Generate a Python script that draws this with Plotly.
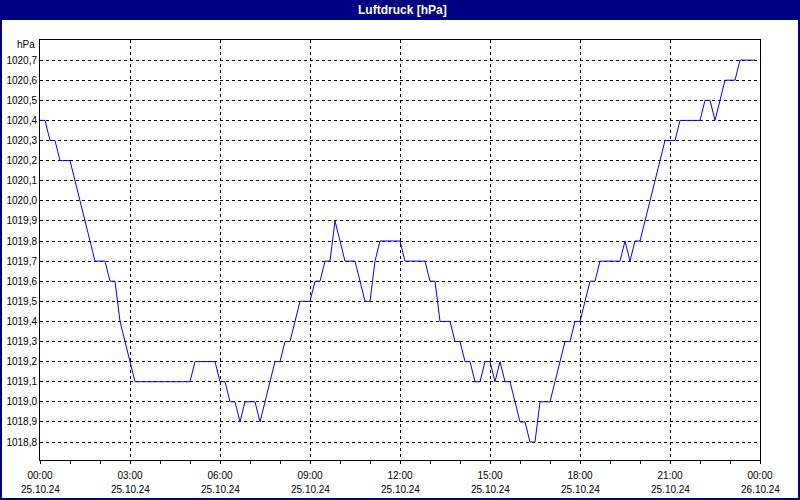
import plotly.graph_objects as go
import pandas as pd

# ---- data ----
chart_title = "Luftdruck [hPa]"
unit_label = "hPa"
start_time = "2024-10-25 00:00"
step_minutes = 10
pressure_hpa = [
    1020.4, 1020.4, 1020.3, 1020.3, 1020.2, 1020.2, 1020.2, 1020.1, 1020.0, 1019.9,
    1019.8, 1019.7, 1019.7, 1019.7, 1019.6, 1019.6, 1019.4, 1019.3, 1019.2, 1019.1,
    1019.1, 1019.1, 1019.1, 1019.1, 1019.1, 1019.1, 1019.1, 1019.1, 1019.1, 1019.1,
    1019.1, 1019.2, 1019.2, 1019.2, 1019.2, 1019.2,
    1019.1, 1019.1, 1019.0, 1019.0, 1018.9, 1019.0, 1019.0, 1019.0, 1018.9, 1019.0,
    1019.1, 1019.2, 1019.2, 1019.3, 1019.3, 1019.4, 1019.5, 1019.5, 1019.5, 1019.6,
    1019.6, 1019.7, 1019.7, 1019.9, 1019.8, 1019.7, 1019.7, 1019.7, 1019.6, 1019.5,
    1019.5, 1019.7, 1019.8, 1019.8, 1019.8, 1019.8, 1019.8, 1019.7, 1019.7, 1019.7,
    1019.7, 1019.7, 1019.6, 1019.6, 1019.4, 1019.4, 1019.4, 1019.3, 1019.3, 1019.2,
    1019.2, 1019.1, 1019.1, 1019.2, 1019.2, 1019.1, 1019.2, 1019.1, 1019.1, 1019.0,
    1018.9, 1018.9, 1018.8, 1018.8, 1019.0, 1019.0, 1019.0, 1019.1, 1019.2, 1019.3,
    1019.3, 1019.4, 1019.4, 1019.5, 1019.6, 1019.6, 1019.7, 1019.7, 1019.7, 1019.7,
    1019.7, 1019.8, 1019.7, 1019.8, 1019.8, 1019.9, 1020.0, 1020.1, 1020.2, 1020.3,
    1020.3, 1020.3, 1020.4, 1020.4, 1020.4, 1020.4, 1020.4, 1020.5, 1020.5, 1020.4,
    1020.5, 1020.6, 1020.6, 1020.6, 1020.7, 1020.7, 1020.7, 1020.7,
]
x_tick_times = ["2024-10-25 00:00", "2024-10-25 03:00", "2024-10-25 06:00",
                "2024-10-25 09:00", "2024-10-25 12:00", "2024-10-25 15:00",
                "2024-10-25 18:00", "2024-10-25 21:00", "2024-10-26 00:00"]
x_tick_hours = ["00:00", "03:00", "06:00", "09:00", "12:00", "15:00",
                "18:00", "21:00", "00:00"]
x_tick_dates = ["25.10.24", "25.10.24", "25.10.24", "25.10.24", "25.10.24",
                "25.10.24", "25.10.24", "25.10.24", "26.10.24"]
y_tick_values = [1018.8, 1018.9, 1019.0, 1019.1, 1019.2, 1019.3, 1019.4, 1019.5,
                 1019.6, 1019.7, 1019.8, 1019.9, 1020.0, 1020.1, 1020.2, 1020.3,
                 1020.4, 1020.5, 1020.6, 1020.7]
y_tick_labels = ["1018,8", "1018,9", "1019,0", "1019,1", "1019,2", "1019,3", "1019,4",
                 "1019,5", "1019,6", "1019,7", "1019,8", "1019,9", "1020,0", "1020,1",
                 "1020,2", "1020,3", "1020,4", "1020,5", "1020,6", "1020,7"]

times = pd.date_range(start_time, periods=len(pressure_hpa), freq=f"{step_minutes}min")

W, H = 800, 500
ML, MR, MT, MB = 40, 40, 40, 40
PW, PH = W - ML - MR, H - MT - MB
NAVY = "#000080"
FONT = "Liberation Sans, Arial, sans-serif"
FS = 10


def px_x(p):
    return (p - ML) / PW


def px_y(p):
    return (H - MB - p) / PH


fig = go.Figure()
fig.add_trace(go.Scatter(x=times, y=pressure_hpa, mode="lines",
                         line=dict(color="#0000FF", width=1), hoverinfo="x+y",
                         showlegend=False))

annotations = [
    dict(text="<b>" + chart_title + "</b>", xref="paper", yref="paper",
         x=px_x(402), y=px_y(10), xanchor="center", yanchor="middle",
         showarrow=False, font=dict(family=FONT, size=12, color="white")),
    dict(text=unit_label, xref="paper", yref="paper",
         x=px_x(37), y=px_y(45), xanchor="right", yanchor="middle",
         showarrow=False, font=dict(family=FONT, size=FS, color="black")),
]
for t, d in zip(x_tick_times, x_tick_dates):
    annotations.append(dict(text=d, xref="x", yref="paper", x=t, y=px_y(489),
                            xanchor="center", yanchor="middle", showarrow=False,
                            font=dict(family=FONT, size=FS, color="black")))

fig.update_layout(
    width=W, height=H,
    margin=dict(l=ML, r=MR, t=MT, b=MB, pad=0, autoexpand=False),
    paper_bgcolor="white", plot_bgcolor="white",
    font=dict(family=FONT, size=FS, color="black"),
    xaxis=dict(
        type="date", automargin=False,
        range=["2024-10-25 00:00", "2024-10-26 00:00"],
        tickvals=x_tick_times, ticktext=x_tick_hours,
        showgrid=True, gridcolor="black", gridwidth=1, griddash="3px,3px",
        showline=True, linecolor="black", linewidth=1, mirror=True,
        ticks="outside", ticklen=3, tickcolor="black", tickwidth=1,
        ticklabelstandoff=3,
        minor=dict(dtick=3600000, ticks="outside", ticklen=3, tickcolor="black",
                   showgrid=False),
        zeroline=False, fixedrange=True,
        tickfont=dict(family=FONT, size=FS, color="black"),
    ),
    yaxis=dict(
        automargin=False,
        range=[1018.7105, 1020.8],
        tickvals=y_tick_values, ticktext=y_tick_labels,
        showgrid=True, gridcolor="black", gridwidth=1, griddash="3px,3px",
        showline=True, linecolor="black", linewidth=1, mirror=True,
        ticks="", zeroline=False, fixedrange=True,
        tickfont=dict(family=FONT, size=FS, color="black"),
    ),
    shapes=[
        dict(type="rect", xref="paper", yref="paper",
             x0=px_x(0), x1=px_x(W), y0=px_y(20), y1=px_y(0),
             fillcolor=NAVY, line=dict(width=0), layer="above"),
        dict(type="rect", xref="paper", yref="paper",
             x0=px_x(1), x1=px_x(W - 1), y0=px_y(H - 1), y1=px_y(1),
             fillcolor="rgba(0,0,0,0)", line=dict(color=NAVY, width=2), layer="above"),
    ],
    annotations=annotations,
)

fig.write_html("out.html", config={"displayModeBar": False},
               post_script="document.body.style.margin='0';document.body.style.padding='0';"
                           "document.body.style.overflow='hidden';")
